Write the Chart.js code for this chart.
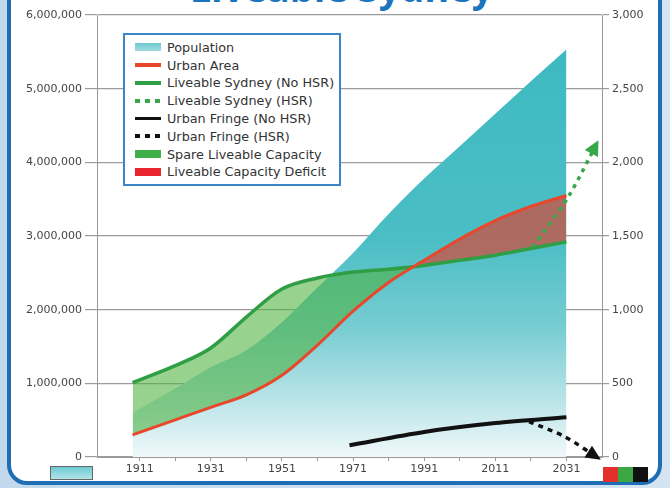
<!DOCTYPE html>
<html>
<head>
<meta charset="utf-8">
<script src="https://cdn.jsdelivr.net/npm/chart.js@4.4.1/dist/chart.umd.min.js"></script>
<style>
  html, body { margin: 0; padding: 0; }
  body {
    width: 670px; height: 488px; overflow: hidden; position: relative;
    background: linear-gradient(90deg, #c2d8ed, #d4e4f3);
    font-family: "DejaVu Sans", sans-serif;
  }
  .panel {
    position: absolute; left: 7px; top: -40px; width: 655px; height: 525px;
    box-sizing: border-box; border: 4px solid #1f6db5; border-radius: 20px;
    background: #fff;
  }
  .title {
    position: absolute; left: 0; width: 683px; top: -32px;
    text-align: center; font: bold 38px "Open Sans"; line-height: 38px;
    color: #1b74be; white-space: nowrap;
  }
  #chart { position: absolute; left: 0; top: 0; }
  .legend {
    position: absolute; left: 123px; top: 33px; width: 218px; height: 153px;
    box-sizing: border-box; border: 2px solid #3a86c8; background: #fff;
    padding: 3.5px 0 0 10px;
  }
  .legend .row {
    height: 17.8px; display: flex; align-items: center;
    font-size: 12.8px; color: #333; white-space: nowrap;
  }
  .legend .sw { width: 26px; margin-right: 6px; flex: none; }
  .swatch-pop {
    position: absolute; left: 50px; top: 466px; width: 43px; height: 14px;
    box-sizing: border-box; border: 1px solid #666;
    background: linear-gradient(180deg, #6ccbd2, #b3e3e7);
  }
  .swatch-rgb { position: absolute; left: 603px; top: 467px; height: 15px; display: flex; }
  .swatch-rgb div { width: 15px; height: 15px; }
</style>
</head>
<body>
<div class="panel"></div>
<div class="title">Liveable Sydney</div>
<canvas id="chart" width="670" height="488"></canvas>
<div class="legend" id="legend"></div>
<div class="swatch-pop"></div>
<div class="swatch-rgb"><div style="background:#e3302a"></div><div style="background:#3ba845"></div><div style="background:#111"></div></div>
<script>
// yearly series
const years = [1909, 1921, 1931, 1941, 1951, 1961, 1971, 1981, 1991, 2001, 2011, 2021, 2031];
const population = [600000, 930000, 1220000, 1450000, 1830000, 2300000, 2770000, 3300000, 3780000, 4220000, 4660000, 5100000, 5530000];
const liveableNoHsr = [1010000, 1240000, 1480000, 1900000, 2280000, 2430000, 2510000, 2550000, 2600000, 2670000, 2740000, 2830000, 2920000];
const urbanArea = [150, 252, 337, 422, 555, 760, 990, 1185, 1335, 1480, 1605, 1700, 1775];

// HSR projections
const liveableHsrYears = [2021.5, 2031.5, 2040];
const liveableHsr = [2850000, 3530000, 4300000];
const fringeYears = [1970, 1991, 2011, 2031];
const fringeNoHsr = [80, 170, 230, 270];
const fringeHsrYears = [2020.5, 2030.5, 2039.5];
const fringeHsr = [240, 138, 0];

// axes
const xTicks = [1911, 1921, 1931, 1941, 1951, 1961, 1971, 1981, 1991, 2001, 2011, 2021, 2031];
const xLabelEvery = 20;
const leftTicks = [0, 1000000, 2000000, 3000000, 4000000, 5000000, 6000000];
const rightTicks = [0, 500, 1000, 1500, 2000, 2500, 3000];

const seriesLabels = ['Population', 'Urban Area', 'Liveable Sydney (No HSR)', 'Liveable Sydney (HSR)',
  'Urban Fringe (No HSR)', 'Urban Fringe (HSR)'];
const fillLabels = ['Spare Liveable Capacity', 'Liveable Capacity Deficit'];

const GREEN = '#2f9e44';
const RED = '#e8472b';
const BLACK = '#111';
const SPARE = 'rgba(78,178,62,0.58)';
const DEFICIT = 'rgba(228,60,40,0.64)';

const pts = (xs, ys) => xs.map((x, i) => ({ x: x, y: ys[i] }));

function popGradient(ctx) {
    const area = ctx.chart.chartArea;
    if (!area) return '#5cc3c9';
    const g = ctx.chart.ctx.createLinearGradient(0, area.top, 0, area.bottom);
    g.addColorStop(0, 'rgb(60,184,192)');
    g.addColorStop(0.51, 'rgb(75,190,197)');
    g.addColorStop(0.71, 'rgb(120,205,210)');
    g.addColorStop(0.87, 'rgb(185,228,232)');
    g.addColorStop(1, 'rgb(240,248,250)');
    return g;
}

// filled triangle at the last point of any dataset with arrowHead set
const arrowHeads = {
    id: 'arrowHeads',
    afterDatasetsDraw(chart) {
        const ctx = chart.ctx;
        chart.data.datasets.forEach((ds, i) => {
            if (!ds.arrowHead) return;
            const els = chart.getDatasetMeta(i).data;
            const tip = els[els.length - 1];
            const from = (tip.cp1x !== undefined && tip.cp1x !== tip.x) ? { x: tip.cp1x, y: tip.cp1y } : els[els.length - 2];
            const a = Math.atan2(tip.y - from.y, tip.x - from.x);
            const ext = ds.arrowHead.extend || 0;
            const tx = tip.x + Math.cos(a) * ext, ty = tip.y + Math.sin(a) * ext;
            const len = ds.arrowHead.length, half = ds.arrowHead.width / 2;
            ctx.save();
            ctx.fillStyle = ds.borderColor;
            ctx.beginPath();
            ctx.moveTo(tx, ty);
            ctx.lineTo(tx - Math.cos(a) * len - Math.sin(a) * half, ty - Math.sin(a) * len + Math.cos(a) * half);
            ctx.lineTo(tx - Math.cos(a) * len + Math.sin(a) * half, ty - Math.sin(a) * len - Math.cos(a) * half);
            ctx.closePath();
            ctx.fill();
            ctx.restore();
        });
    }
};

const tickFont = { family: 'DejaVu Sans', size: 11 };

const chart = new Chart(document.getElementById('chart'), {
    type: 'line',
    data: {
        datasets: [
            {
                label: seriesLabels[0], data: pts(years, population), yAxisID: 'y',
                borderWidth: 0, borderColor: 'rgba(0,0,0,0)', backgroundColor: popGradient,
                fill: 'origin', cubicInterpolationMode: 'monotone', order: 6
            },
            {
                label: seriesLabels[1], data: pts(years, urbanArea), yAxisID: 'y2',
                borderColor: RED, borderWidth: 3, cubicInterpolationMode: 'monotone', order: 2
            },
            {
                label: seriesLabels[2], data: pts(years, liveableNoHsr), yAxisID: 'y',
                borderColor: GREEN, borderWidth: 3.5, cubicInterpolationMode: 'monotone', order: 3,
                fill: { target: 1, above: SPARE, below: DEFICIT }
            },
            {
                label: seriesLabels[3], data: pts(liveableHsrYears, liveableHsr), yAxisID: 'y',
                borderColor: '#36a84a', borderWidth: 3.5, borderDash: [4, 5], tension: 0.3, order: 1,
                arrowHead: { length: 15, width: 15 }
            },
            {
                label: seriesLabels[4], data: pts(fringeYears, fringeNoHsr), yAxisID: 'y2',
                borderColor: BLACK, borderWidth: 4, tension: 0.3, order: 1
            },
            {
                label: seriesLabels[5], data: pts(fringeHsrYears, fringeHsr), yAxisID: 'y2',
                borderColor: BLACK, borderWidth: 3.5, borderDash: [5, 5], tension: 0.3, order: 1,
                arrowHead: { length: 15, width: 14, extend: 5 }
            }
        ]
    },
    options: {
        responsive: false,
        animation: false,
        layout: { padding: { top: 15 } },
        elements: { point: { radius: 0 } },
        plugins: {
            legend: { display: false },
            tooltip: { enabled: false },
            filler: { drawTime: 'beforeDatasetsDraw' }
        },
        scales: {
            x: {
                type: 'linear', min: 1899, max: 2041,
                afterBuildTicks: s => { s.ticks = xTicks.map(v => ({ value: v })); },
                afterFit: s => { s.height = 31; },
                ticks: {
                    autoSkip: false, maxRotation: 0, padding: 2, color: '#444', font: tickFont,
                    callback: v => ((v - xTicks[0]) % xLabelEvery === 0 ? String(v) : '')
                },
                grid: { drawOnChartArea: false, tickLength: 4, color: '#999' },
                border: { color: '#999' }
            },
            y: {
                position: 'left', min: 0, max: 6000000,
                afterBuildTicks: s => { s.ticks = leftTicks.map(v => ({ value: v })); },
                afterFit: s => { s.width = 97; },
                ticks: { padding: 3, color: '#444', font: tickFont, callback: v => v.toLocaleString('en-US') },
                grid: { color: '#9c9c9c', lineWidth: 1.2, tickLength: 12 },
                border: { color: '#999' }
            },
            y2: {
                position: 'right', min: 0, max: 3000,
                afterBuildTicks: s => { s.ticks = rightTicks.map(v => ({ value: v })); },
                afterFit: s => { s.width = 68; },
                ticks: { padding: 3, color: '#444', font: tickFont, callback: v => v.toLocaleString('en-US') },
                grid: { drawOnChartArea: false, color: '#9c9c9c', lineWidth: 1.2, tickLength: 7 },
                border: { color: '#999' }
            }
        }
    },
    plugins: [arrowHeads]
});

// HTML legend inside the plot
function swatchFor(ds) {
    const el = document.createElement('div');
    el.className = 'sw';
    if (ds.fill === 'origin') {
        el.style.height = '8px';
        el.style.background = 'linear-gradient(180deg, #6fcad0, #9fdbe0)';
    } else if (ds.borderDash) {
        el.style.height = '4px';
        el.style.background = 'repeating-linear-gradient(90deg, ' + ds.borderColor + ' 0 5px, transparent 5px 10px)';
    } else {
        el.style.height = '3.5px';
        el.style.background = ds.borderColor;
    }
    return el;
}
const legendEl = document.getElementById('legend');
const addRow = (sw, text) => {
    const row = document.createElement('div');
    row.className = 'row';
    row.appendChild(sw);
    row.appendChild(document.createTextNode(text));
    legendEl.appendChild(row);
};
chart.data.datasets.forEach(ds => addRow(swatchFor(ds), ds.label));
['#3fae49', '#e8252e'].forEach((c, i) => {
    const sw = document.createElement('div');
    sw.className = 'sw';
    sw.style.height = '8px';
    sw.style.background = c;
    addRow(sw, fillLabels[i]);
});
</script>
</body>
</html>
